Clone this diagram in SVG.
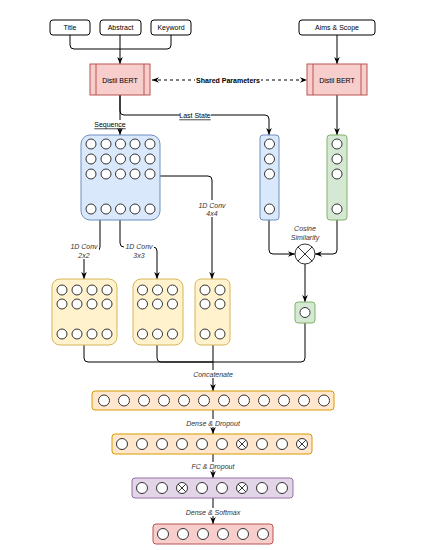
<svg xmlns="http://www.w3.org/2000/svg" width="425" height="550" viewBox="0 0 425 550">
<style>
text{font-family:"Liberation Sans",Arial,sans-serif;font-size:7px;fill:#000;text-anchor:middle;dominant-baseline:central}
.it{font-style:italic;fill:#333}
.u{text-decoration:underline}
.in{fill:#fff;stroke:#000;stroke-width:1}
.bert{fill:#f8cecc;stroke:#b85450;stroke-width:1}
.blue{fill:#dae8fc;stroke:#6c8ebf;stroke-width:1}
.green{fill:#d5e8d4;stroke:#82b366;stroke-width:1}
.yel{fill:#fff2cc;stroke:#d6b656;stroke-width:1}
.ora{fill:#ffe6cc;stroke:#d79b00;stroke-width:1}
.pur{fill:#e1d5e7;stroke:#9673a6;stroke-width:1}
.red{fill:#f8cecc;stroke:#b85450;stroke-width:1}
.c{fill:#fff;stroke:#333;stroke-width:1}
.x{stroke:#333;stroke-width:1}
.e{fill:none;stroke:#000;stroke-width:1}
.bg{fill:#fff}
</style>
<defs>
<marker id="a" viewBox="0 0 10 10" refX="10" refY="5" markerWidth="7" markerHeight="7" markerUnits="userSpaceOnUse" orient="auto-start-reverse">
<path d="M0 1 L10 5 L0 9 L3 5 z" fill="#000"/>
</marker>
</defs>

<g id="edges">
<path class="e" d="M70 35 V45 Q70 49 74 49 H120"/>
<path class="e" d="M171 35 V45 Q171 49 167 49 H120"/>
<path class="e" d="M120 35 V64" marker-end="url(#a)"/>
<path class="e" d="M337 35 V64" marker-end="url(#a)"/>
<path class="e" d="M152 80 H307" stroke-dasharray="3 3" marker-start="url(#a)" marker-end="url(#a)"/>
<path class="e" d="M120 95 V135" marker-end="url(#a)"/>
<path class="e" d="M120 95 V111 Q120 115 124 115 H265 Q269 115 269 119 V135" marker-end="url(#a)"/>
<path class="e" d="M337 95 V135" marker-end="url(#a)"/>
<path class="e" d="M160 176 H208 Q212 176 212 180 V279" marker-end="url(#a)"/>
<path class="e" d="M100 220 V247 Q100 251 96 251 H88 Q84 251 84 255 V279" marker-end="url(#a)"/>
<path class="e" d="M120 220 V243 Q120 247 124 247 H153 Q157 247 157 251 V279" marker-end="url(#a)"/>
<path class="e" d="M269 220 V250 Q269 254 273 254 H295" marker-end="url(#a)"/>
<path class="e" d="M337 220 V250 Q337 254 333 254 H315" marker-end="url(#a)"/>
<path class="e" d="M305 264 V302" marker-end="url(#a)"/>
<path class="e" d="M305 323 V358 Q305 362 301 362 H213"/>
<path class="e" d="M84 345 V358 Q84 362 88 362 H213"/>
<path class="e" d="M157 345 V358 Q157 362 161 362 H213"/>
<path class="e" d="M213 345 V391" marker-end="url(#a)"/>
<path class="e" d="M213 410 V434" marker-end="url(#a)"/>
<path class="e" d="M213 454 V478" marker-end="url(#a)"/>
<path class="e" d="M213 498 V524" marker-end="url(#a)"/>
<rect class="bg" x="195" y="76" width="66" height="8"/>
<text x="228" y="80" font-weight="bold">Shared Parameters</text>
<rect class="bg" x="180" y="111" width="31" height="8"/>
<text class="u" x="195" y="115">Last State</text>
<rect class="bg" x="95" y="120" width="30" height="8"/>
<text class="u" x="110" y="124">Sequence</text>
<rect class="bg" x="198" y="200" width="29" height="17"/>
<text class="it" x="212" y="205">1D Conv</text>
<text class="it" x="212" y="213">4x4</text>
<rect class="bg" x="69" y="242" width="30" height="17"/>
<text class="it" x="84" y="246">1D Conv</text>
<text class="it" x="84" y="255">2x2</text>
<rect class="bg" x="124" y="242" width="30" height="17"/>
<text class="it" x="139" y="246">1D Conv</text>
<text class="it" x="139" y="255">3x3</text>
<text class="it" x="305" y="228">Cosine</text>
<text class="it" x="305" y="237">Similarity</text>
<rect class="bg" x="193" y="370" width="40" height="8"/>
<text class="it" x="213" y="374">Concatenate</text>
<rect class="bg" x="186" y="419" width="54" height="8"/>
<text class="it" x="213" y="423">Dense &amp; Dropout</text>
<rect class="bg" x="190" y="462" width="46" height="8"/>
<text class="it" x="213" y="466">FC &amp; Dropout</text>
<rect class="bg" x="186" y="508" width="54" height="8"/>
<text class="it" x="213" y="512">Dense &amp; Softmax</text>
</g>

<g id="title"><rect class="in" x="50" y="20" width="40" height="15" rx="3"/><text x="70" y="27.5">Title</text></g>
<g id="abstract"><rect class="in" x="100" y="20" width="41" height="15" rx="3"/><text x="120.5" y="27.5">Abstract</text></g>
<g id="keyword"><rect class="in" x="151" y="20" width="40" height="15" rx="3"/><text x="171" y="27.5">Keyword</text></g>
<g id="aims"><rect class="in" x="299" y="20" width="76" height="15" rx="3"/><text x="337" y="27.5">Aims &amp; Scope</text></g>

<g id="bert1"><rect class="bert" x="90" y="64" width="60" height="31"/><line class="bert" x1="96" y1="64" x2="96" y2="95"/><line class="bert" x1="144" y1="64" x2="144" y2="95"/><text x="120" y="80">Distil BERT</text></g>
<g id="bert2"><rect class="bert" x="307" y="64" width="60" height="31"/><line class="bert" x1="313" y1="64" x2="313" y2="95"/><line class="bert" x1="361" y1="64" x2="361" y2="95"/><text x="337" y="80">Distil BERT</text></g>

<g id="matrix">
<rect class="blue" x="81" y="135" width="79" height="85" rx="9"/>
<g class="c">
<circle cx="91" cy="144" r="5"/><circle cx="106" cy="144" r="5"/><circle cx="120.5" cy="144" r="5"/><circle cx="135" cy="144" r="5"/><circle cx="150" cy="144" r="5"/>
<circle cx="91" cy="159" r="5"/><circle cx="106" cy="159" r="5"/><circle cx="120.5" cy="159" r="5"/><circle cx="135" cy="159" r="5"/><circle cx="150" cy="159" r="5"/>
<circle cx="91" cy="174" r="5"/><circle cx="106" cy="174" r="5"/><circle cx="120.5" cy="174" r="5"/><circle cx="135" cy="174" r="5"/><circle cx="150" cy="174" r="5"/>
<circle cx="91" cy="209" r="5"/><circle cx="106" cy="209" r="5"/><circle cx="120.5" cy="209" r="5"/><circle cx="135" cy="209" r="5"/><circle cx="150" cy="209" r="5"/>
</g>
</g>

<g id="laststate">
<rect class="blue" x="260" y="135" width="19" height="85" rx="3"/>
<g class="c"><circle cx="269.5" cy="144" r="5"/><circle cx="269.5" cy="159" r="5"/><circle cx="269.5" cy="174" r="5"/><circle cx="269.5" cy="209" r="5"/></g>
</g>
<g id="aimsvec">
<rect class="green" x="327" y="135" width="20" height="85" rx="3"/>
<g class="c"><circle cx="337" cy="144" r="5"/><circle cx="337" cy="159" r="5"/><circle cx="337" cy="174" r="5"/><circle cx="337" cy="209" r="5"/></g>
</g>

<g id="cosine">
<circle class="c" cx="305" cy="254" r="10"/>
<line class="x" x1="297.9" y1="246.9" x2="312.1" y2="261.1"/><line class="x" x1="312.1" y1="246.9" x2="297.9" y2="261.1"/>
</g>
<g id="simout"><rect class="green" x="295" y="302" width="20" height="21" rx="3"/><circle class="c" cx="305" cy="312.5" r="5"/></g>

<g id="conv2">
<rect class="yel" x="52" y="279" width="65" height="66" rx="8"/>
<g class="c">
<circle cx="62" cy="290" r="5"/><circle cx="77" cy="290" r="5"/><circle cx="92" cy="290" r="5"/><circle cx="107" cy="290" r="5"/>
<circle cx="62" cy="304" r="5"/><circle cx="77" cy="304" r="5"/><circle cx="92" cy="304" r="5"/><circle cx="107" cy="304" r="5"/>
<circle cx="62" cy="334" r="5"/><circle cx="77" cy="334" r="5"/><circle cx="92" cy="334" r="5"/><circle cx="107" cy="334" r="5"/>
</g>
</g>
<g id="conv3">
<rect class="yel" x="133" y="279" width="50" height="66" rx="8"/>
<g class="c">
<circle cx="142.5" cy="290" r="5"/><circle cx="157.5" cy="290" r="5"/><circle cx="172.5" cy="290" r="5"/>
<circle cx="142.5" cy="304" r="5"/><circle cx="157.5" cy="304" r="5"/><circle cx="172.5" cy="304" r="5"/>
<circle cx="142.5" cy="334" r="5"/><circle cx="157.5" cy="334" r="5"/><circle cx="172.5" cy="334" r="5"/>
</g>
</g>
<g id="conv4">
<rect class="yel" x="195" y="279" width="35" height="66" rx="6"/>
<g class="c">
<circle cx="205" cy="290" r="5"/><circle cx="220" cy="290" r="5"/>
<circle cx="205" cy="304" r="5"/><circle cx="220" cy="304" r="5"/>
<circle cx="205" cy="334" r="5"/><circle cx="220" cy="334" r="5"/>
</g>
</g>

<g id="concat">
<rect class="ora" x="92" y="391" width="242" height="19" rx="3"/>
<g class="c">
<circle cx="104" cy="400.5" r="5.5"/><circle cx="124" cy="400.5" r="5.5"/><circle cx="144" cy="400.5" r="5.5"/><circle cx="164" cy="400.5" r="5.5"/><circle cx="184" cy="400.5" r="5.5"/><circle cx="204" cy="400.5" r="5.5"/><circle cx="224" cy="400.5" r="5.5"/><circle cx="244" cy="400.5" r="5.5"/><circle cx="264" cy="400.5" r="5.5"/><circle cx="284" cy="400.5" r="5.5"/><circle cx="304" cy="400.5" r="5.5"/><circle cx="324" cy="400.5" r="5.5"/>
</g>
</g>

<g id="dense">
<rect class="ora" x="112" y="434" width="200" height="20" rx="3"/>
<g class="c">
<circle cx="122" cy="444" r="5.5"/><circle cx="142" cy="444" r="5.5"/><circle cx="162" cy="444" r="5.5"/><circle cx="182" cy="444" r="5.5"/><circle cx="202" cy="444" r="5.5"/><circle cx="222" cy="444" r="5.5"/><circle cx="242" cy="444" r="5.5"/><circle cx="262" cy="444" r="5.5"/><circle cx="282" cy="444" r="5.5"/><circle cx="302" cy="444" r="5.5"/>
</g>
<path class="x" d="M238.1 440.1 L245.9 447.9 M245.9 440.1 L238.1 447.9 M298.1 440.1 L305.9 447.9 M305.9 440.1 L298.1 447.9"/>
</g>

<g id="fc">
<rect class="pur" x="132" y="478" width="161" height="20" rx="3"/>
<g class="c">
<circle cx="142" cy="488" r="5.5"/><circle cx="162" cy="488" r="5.5"/><circle cx="182" cy="488" r="5.5"/><circle cx="202" cy="488" r="5.5"/><circle cx="222" cy="488" r="5.5"/><circle cx="242" cy="488" r="5.5"/><circle cx="262" cy="488" r="5.5"/><circle cx="282" cy="488" r="5.5"/>
</g>
<path class="x" d="M178.1 484.1 L185.9 491.9 M185.9 484.1 L178.1 491.9 M238.1 484.1 L245.9 491.9 M245.9 484.1 L238.1 491.9"/>
</g>

<g id="out">
<rect class="red" x="153" y="524" width="120" height="20" rx="3"/>
<g class="c">
<circle cx="163" cy="534" r="5.5"/><circle cx="183" cy="534" r="5.5"/><circle cx="203" cy="534" r="5.5"/><circle cx="223" cy="534" r="5.5"/><circle cx="243" cy="534" r="5.5"/><circle cx="263" cy="534" r="5.5"/>
</g>
</g>
</svg>
